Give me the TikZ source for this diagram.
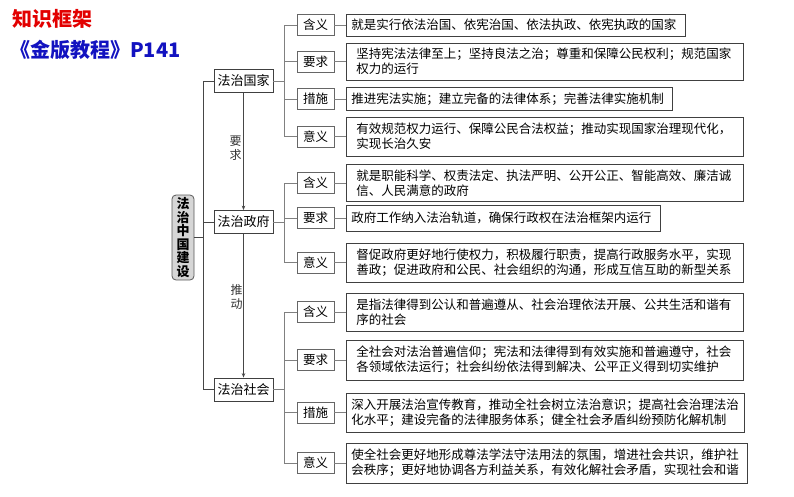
\documentclass[tikz,border=0pt]{standalone}
\usepackage{fontspec}
\setmainfont{Noto Sans CJK SC}
\usetikzlibrary{arrows.meta}
\definecolor{tred}{RGB}{226,0,0}
\definecolor{tblue}{RGB}{18,18,192}
\definecolor{lineD}{RGB}{70,70,70}
\definecolor{lineG}{RGB}{128,128,128}
\begin{document}
\begin{tikzpicture}[x=1pt,y=-1pt,
  every node/.style={inner sep=0pt},
  title/.style={anchor=west,font=\bfseries\fontsize{20}{22}\selectfont},
  rootbox/.style={draw=black!65,fill=black!16,rounded corners=4pt,line width=0.8pt,
    minimum width=22pt,minimum height=85pt,align=center,
    font=\bfseries\fontsize{13}{13.6}\selectfont},
  lone/.style={draw=black!75,line width=0.8pt,minimum width=59pt,minimum height=23pt,
    font=\fontsize{13}{15}\selectfont},
  lab/.style={draw=black!60,line width=0.8pt,minimum width=37pt,minimum height=21pt,
    font=\fontsize{12.5}{15}\selectfont},
  tb/.style={draw=black!75,line width=0.8pt,anchor=west,align=left,inner xsep=5pt,
    font=\fontsize{12.5}{15}\selectfont},
  tbw/.style={tb,inner xsep=10pt,text width=377pt},
  conn/.style={draw=lineD,line width=0.7pt},
  branch/.style={draw=lineG,line width=0.9pt},
  arr/.style={conn,-{Stealth[length=4.5pt,width=3.5pt]}},
  vlab/.style={align=center,font=\fontsize{12}{14}\selectfont,text=black!80}
]
\useasboundingbox (0,0) rectangle (794,496);

% titles
\node[title,text=tred] (title1) at (12,19) {知识框架};
\node[title,text=tblue] (title2) at (10,50) {《金版教程》P141};

% root
\node[rootbox] (root) at (183,237.5) {法\\治\\中\\国\\建\\设};

% level 1
\node[lone] (gj) at (243.5,81) {法治国家};
\node[lone] (gz) at (243.5,222) {法治政府};
\node[lone] (sh) at (243.5,389.5) {法治社会};

% spine
\draw[conn] (gj.west) -- ++(-10,0) coordinate (spT) -- (spT |- sh.west) -- (sh.west);
\draw[conn] (gz.west) -- (gz.west -| spT);
\draw[conn] (root.east) -- (root.east -| spT);

% arrows between level 1
\draw[arr] (gj.south) -- (gz.north);
\draw[arr] (gz.south) -- (sh.north);
\node[vlab] (yq) at (235.5,148) {要\\求};
\node[vlab] (td) at (236.5,297) {推\\动};

% ---- group 1: 法治国家
\node[lab] (a1) at (315.5,25) {含义};
\node[lab] (a2) at (315.5,61.5) {要求};
\node[lab] (a3) at (315.5,99) {措施};
\node[lab] (a4) at (315.5,136.5) {意义};
\node[tb,text width=329pt,minimum height=22pt] (ta1) at (346,25) {就是实行依法治国、依宪治国、依法执政、依宪执政的国家};
\node[tbw,minimum height=37pt] (ta2) at (346,61.5) {坚持宪法法律至上；坚持良法之治；尊重和保障公民权利；规范国家\\权力的运行};
\node[tb,text width=316pt,minimum height=23pt] (ta3) at (346,99) {推进宪法实施；建立完备的法律体系；完善法律实施机制};
\node[tbw,minimum height=39pt] (ta4) at (346,136.5) {有效规范权力运行、保障公民合法权益；推动实现国家治理现代化，\\实现长治久安};

\draw[branch] (gj.east) -- ++(11,0) coordinate (b1);
\draw[branch] (a1.west) -- (a1.west -| b1) -- (a4.west -| b1) -- (a4.west);
\draw[branch] (a2.west) -- (a2.west -| b1);
\draw[branch] (a3.west) -- (a3.west -| b1);
\foreach \i in {1,2,3,4} {\draw[branch] (a\i.east) -- (ta\i.west);}

% ---- group 2: 法治政府
\node[lab] (b1l) at (315.5,183) {含义};
\node[lab] (b2l) at (315.5,218) {要求};
\node[lab] (b3l) at (315.5,262.5) {意义};
\node[tbw,minimum height=37pt] (tb1) at (346,183) {就是职能科学、权责法定、执法严明、公开公正、智能高效、廉洁诚\\信、人民满意的政府};
\node[tb,text width=304pt,minimum height=26pt] (tb2) at (346,218) {政府工作纳入法治轨道，确保行政权在法治框架内运行};
\node[tbw,minimum height=39pt] (tb3) at (346,262.5) {督促政府更好地行使权力，积极履行职责，提高行政服务水平，实现\\善政；促进政府和公民、社会组织的沟通，形成互信互助的新型关系};

\draw[branch] (gz.east) -- ++(11,0) coordinate (b2);
\draw[branch] (b1l.west) -- (b1l.west -| b2) -- (b3l.west -| b2) -- (b3l.west);
\draw[branch] (b2l.west) -- (b2l.west -| b2);
\draw[branch] (b1l.east) -- (tb1.west);
\draw[branch] (b2l.east) -- (tb2.west);
\draw[branch] (b3l.east) -- (tb3.west);

% ---- group 3: 法治社会
\node[lab] (c1) at (315.5,312) {含义};
\node[lab] (c2) at (315.5,360) {要求};
\node[lab] (c3) at (315.5,412.5) {措施};
\node[lab] (c4) at (315.5,463) {意义};
\node[tbw,minimum height=38pt] (tc1) at (346,312) {是指法律得到公认和普遍遵从、社会治理依法开展、公共生活和谐有\\序的社会};
\node[tbw,minimum height=40pt] (tc2) at (346,360) {全社会对法治普遍信仰；宪法和法律得到有效实施和普遍遵守，社会\\各领域依法运行；社会纠纷依法得到解决、公平正义得到切实维护};
\node[tb,text width=388pt,minimum height=39pt] (tc3) at (346,412.5) {深入开展法治宣传教育，推动全社会树立法治意识；提高社会治理法治\\化水平；建设完备的法律服务体系；健全社会矛盾纠纷预防化解机制};
\node[tb,text width=391pt,minimum height=40pt] (tc4) at (346,463) {使全社会更好地形成尊法学法守法用法的氛围，增进社会共识，维护社\\会秩序；更好地协调各方利益关系，有效化解社会矛盾，实现社会和谐};

\draw[branch] (sh.east) -- ++(11,0) coordinate (b3);
\draw[branch] (c1.west) -- (c1.west -| b3) -- (c4.west -| b3) -- (c4.west);
\draw[branch] (c2.west) -- (c2.west -| b3);
\draw[branch] (c3.west) -- (c3.west -| b3);
\foreach \i in {1,2,3,4} {\draw[branch] (c\i.east) -- (tc\i.west);}
\end{tikzpicture}
\end{document}
